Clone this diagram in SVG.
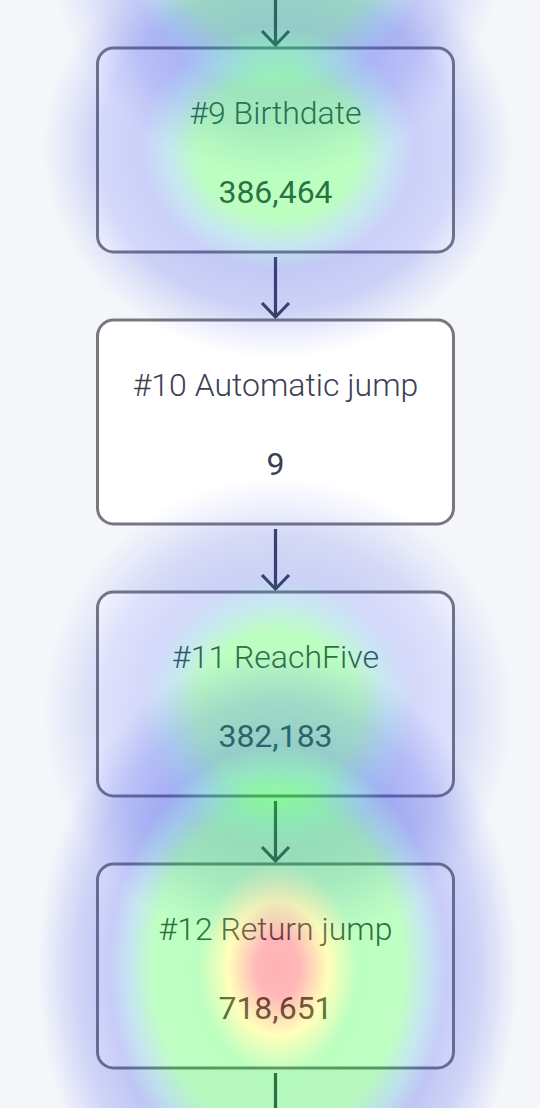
<svg xmlns="http://www.w3.org/2000/svg" width="540" height="1108" viewBox="0 0 540 1108">
<style>
.node rect{fill:#ffffff;stroke:#77787f;stroke-width:3}
.t{font-family:Roboto,"Liberation Sans",sans-serif;font-size:32px;fill:#3a4152;text-anchor:middle}
.title{font-weight:300}
.num{font-weight:400}
.conn line,.conn path{stroke:#3a4152;stroke-width:3.2;fill:none}
</style>
<defs>
<radialGradient id="hg">
<stop offset="0" stop-color="#00ff10" stop-opacity="0.27"/>
<stop offset="0.34" stop-color="#00ff10" stop-opacity="0.26"/>
<stop offset="0.47" stop-color="#1a9cc8" stop-opacity="0.25"/>
<stop offset="0.58" stop-color="#283ce6" stop-opacity="0.24"/>
<stop offset="0.76" stop-color="#283ce6" stop-opacity="0.2"/>
<stop offset="0.88" stop-color="#283ce6" stop-opacity="0.09"/>
<stop offset="1" stop-color="#283ce6" stop-opacity="0"/>
</radialGradient>
<radialGradient id="hc">
<stop offset="0" stop-color="#00ff10" stop-opacity="0.27"/>
<stop offset="0.34" stop-color="#00ff10" stop-opacity="0.26"/>
<stop offset="0.47" stop-color="#1a9cc8" stop-opacity="0.24"/>
<stop offset="0.58" stop-color="#283ce6" stop-opacity="0.2"/>
<stop offset="0.76" stop-color="#283ce6" stop-opacity="0.15"/>
<stop offset="0.88" stop-color="#283ce6" stop-opacity="0.07"/>
<stop offset="1" stop-color="#283ce6" stop-opacity="0"/>
</radialGradient>
<radialGradient id="ha">
<stop offset="0" stop-color="#00ff10" stop-opacity="0.27"/>
<stop offset="0.48" stop-color="#00ff10" stop-opacity="0.25"/>
<stop offset="0.6" stop-color="#1a9cc8" stop-opacity="0.22"/>
<stop offset="0.68" stop-color="#283ce6" stop-opacity="0.19"/>
<stop offset="0.8" stop-color="#283ce6" stop-opacity="0.14"/>
<stop offset="0.9" stop-color="#283ce6" stop-opacity="0.06"/>
<stop offset="1" stop-color="#283ce6" stop-opacity="0"/>
</radialGradient>
<radialGradient id="hr">
<stop offset="0" stop-color="#ff0000" stop-opacity="0.3"/>
<stop offset="0.09" stop-color="#ff0000" stop-opacity="0.28"/>
<stop offset="0.21" stop-color="#ffff00" stop-opacity="0.27"/>
<stop offset="0.33" stop-color="#00ff10" stop-opacity="0.26"/>
<stop offset="0.52" stop-color="#00ff10" stop-opacity="0.25"/>
<stop offset="0.62" stop-color="#1a9cc8" stop-opacity="0.25"/>
<stop offset="0.7" stop-color="#283ce6" stop-opacity="0.26"/>
<stop offset="0.84" stop-color="#283ce6" stop-opacity="0.18"/>
<stop offset="0.93" stop-color="#283ce6" stop-opacity="0.08"/>
<stop offset="1" stop-color="#283ce6" stop-opacity="0"/>
</radialGradient>
</defs>
<rect width="540" height="1108" fill="#f4f6fa"/>
<g class="conn" id="connectors">
<line x1="275.5" y1="0" x2="275.5" y2="44"/>
<path d="M262 31 L275.5 45 L289 31"/>
<line x1="275.5" y1="257" x2="275.5" y2="316"/>
<path d="M262 303 L275.5 317 L289 303"/>
<line x1="275.5" y1="529" x2="275.5" y2="588"/>
<path d="M262 575 L275.5 589 L289 575"/>
<line x1="275.5" y1="801" x2="275.5" y2="860"/>
<path d="M262 847 L275.5 861 L289 847"/>
<line x1="275.5" y1="1073" x2="275.5" y2="1108"/>
</g>
<g class="node" id="node9">
<rect x="97.5" y="48" width="356" height="204" rx="16"/>
<text class="t title" x="275.5" y="124">#9 Birthdate</text>
<text class="t num" x="275.5" y="203">386,464</text>
</g>
<g class="node" id="node10">
<rect x="97.5" y="320" width="356" height="204" rx="16"/>
<text class="t title" x="275.5" y="396">#10 Automatic jump</text>
<text class="t num" x="275.5" y="475">9</text>
</g>
<g class="node" id="node11">
<rect x="97.5" y="592" width="356" height="204" rx="16"/>
<text class="t title" x="275.5" y="668">#11 ReachFive</text>
<text class="t num" x="275.5" y="747">382,183</text>
</g>
<g class="node" id="node12">
<rect x="97.5" y="864" width="356" height="204" rx="16"/>
<text class="t title" x="275.5" y="940">#12 Return jump</text>
<text class="t num" x="275.5" y="1019">718,651</text>
</g>
<g id="heatmap">
<ellipse cx="276" cy="-80" rx="232" ry="260" fill="url(#ha)"/>
<ellipse cx="278" cy="148" rx="235" ry="210" fill="url(#hg)"/>
<ellipse cx="278" cy="712" rx="235" ry="235" fill="url(#hc)"/>
<ellipse cx="278" cy="968" rx="240" ry="320" fill="url(#hr)"/>
</g>
</svg>
